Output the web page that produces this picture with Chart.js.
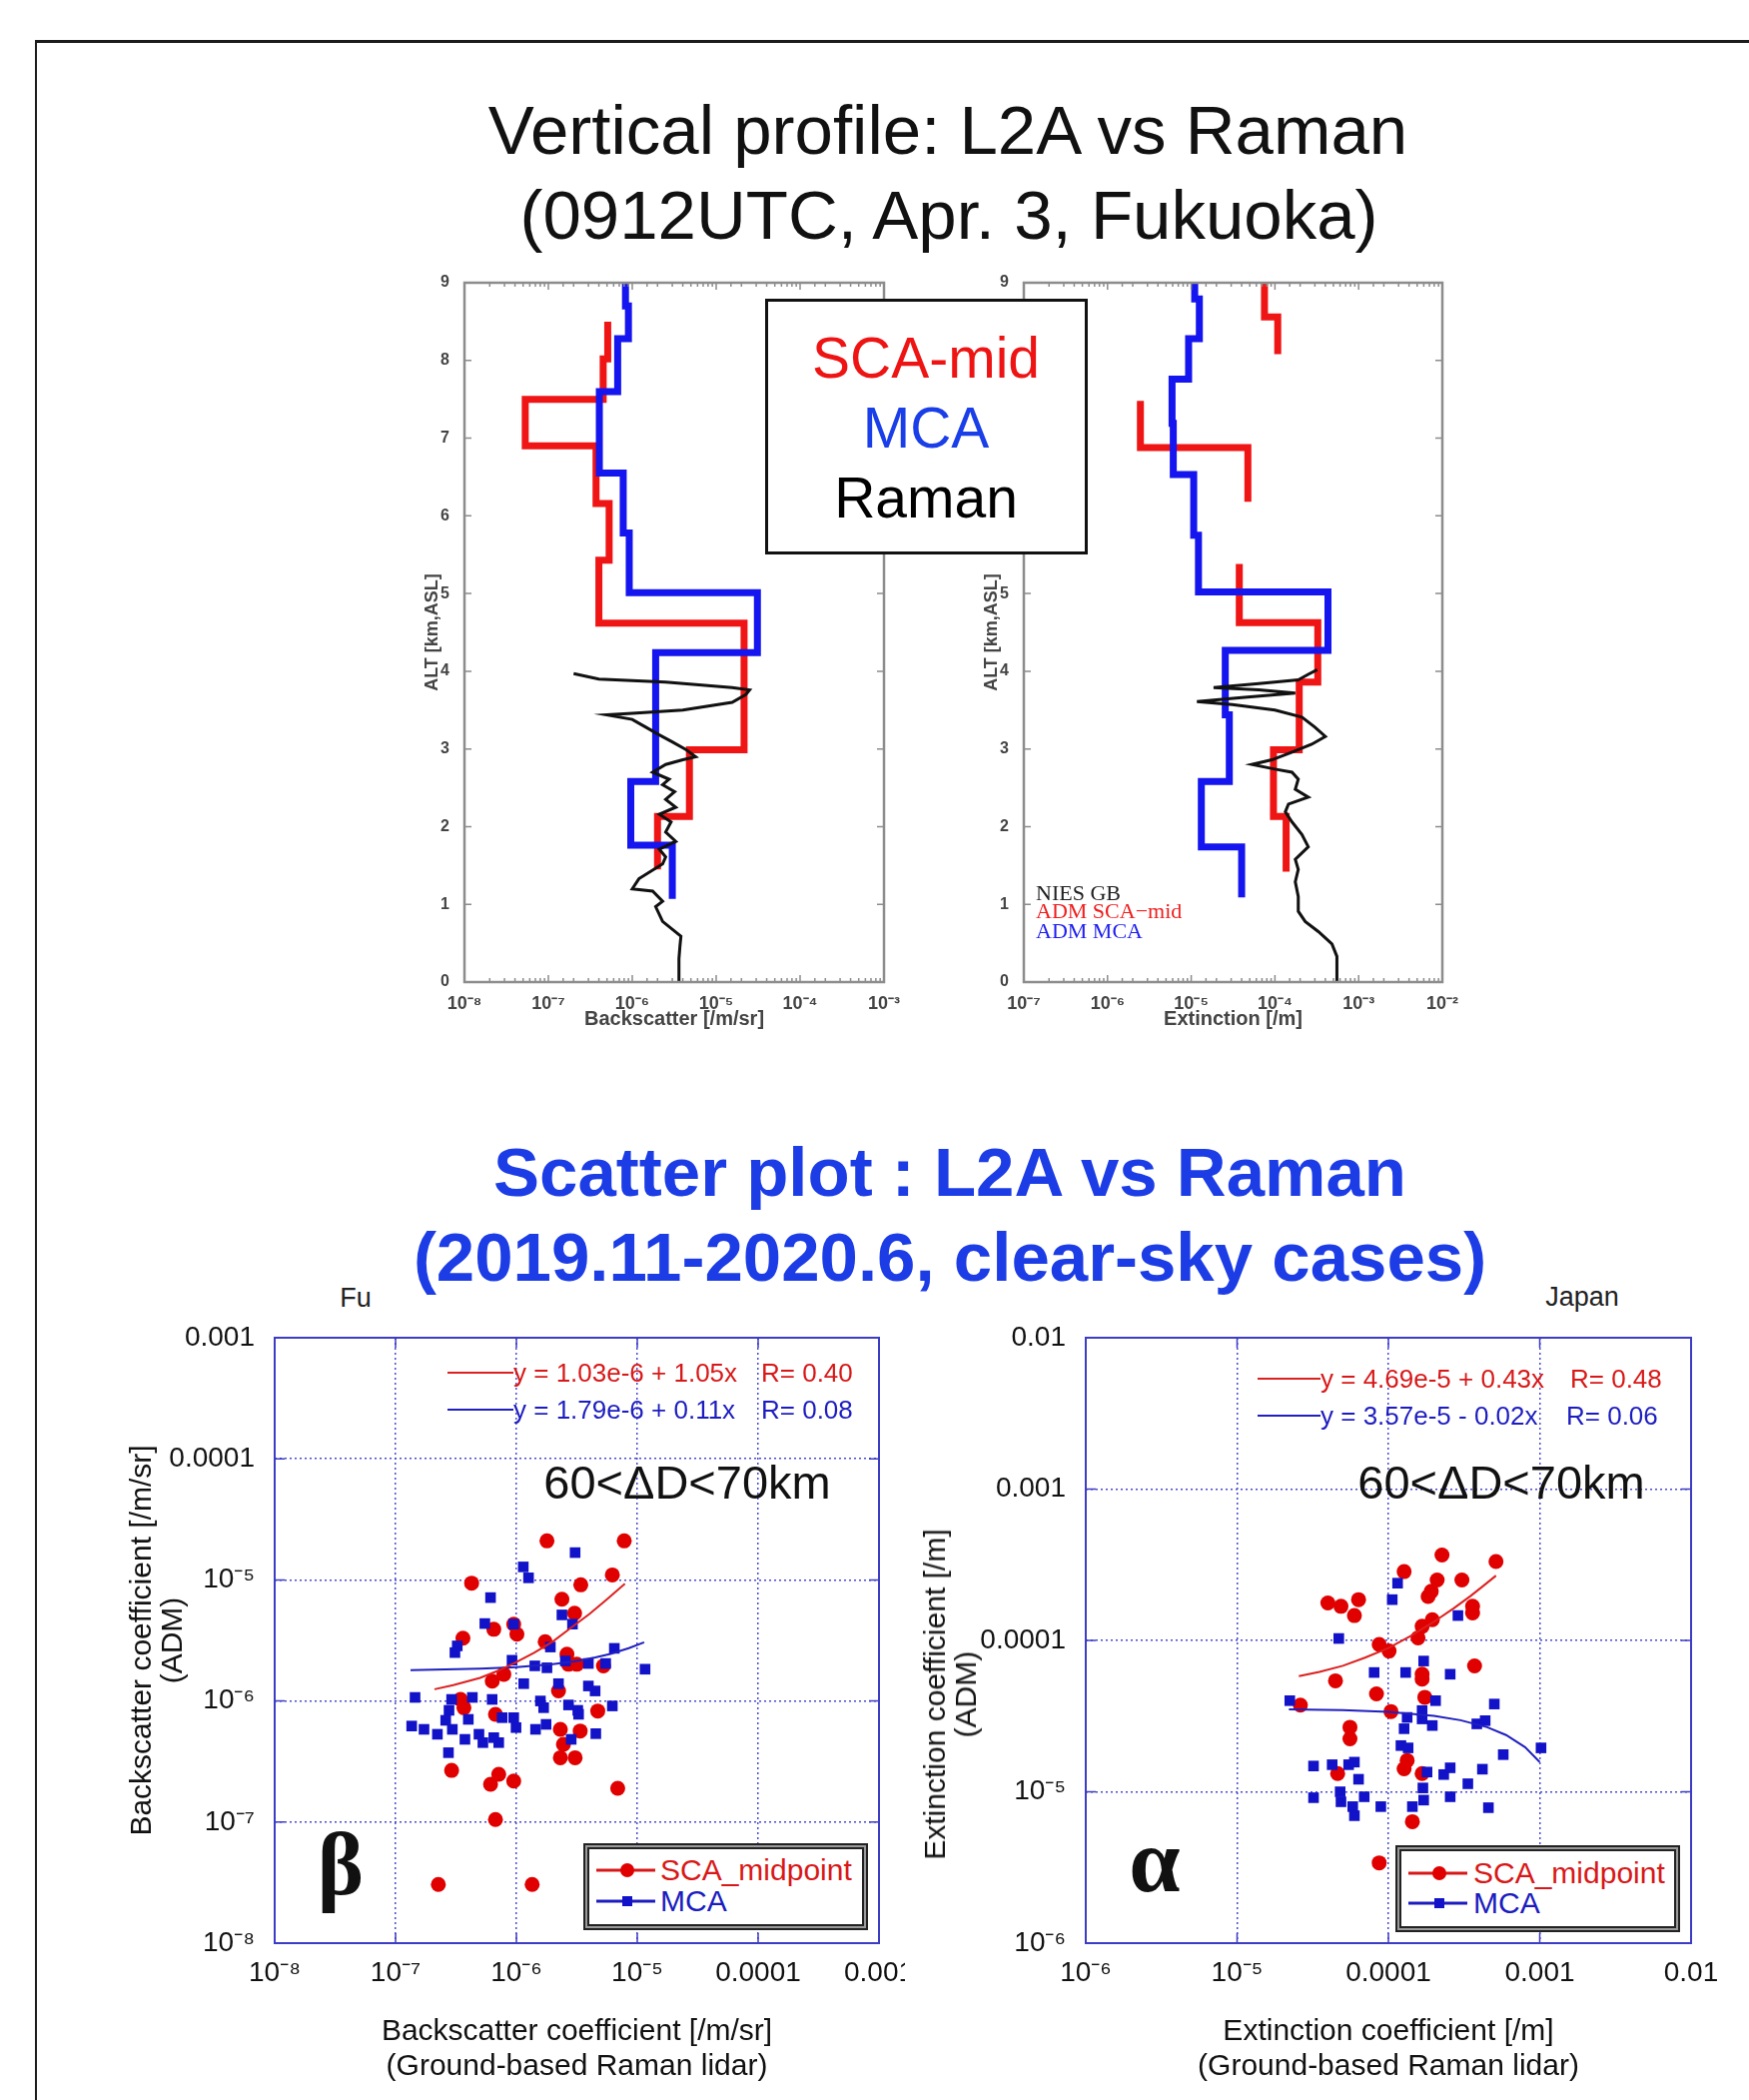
<!DOCTYPE html>
<html lang="en">
<head>
<meta charset="utf-8">
<title>L2A vs Raman</title>
<script src="https://cdn.jsdelivr.net/npm/chart.js@4.4.1/dist/chart.umd.min.js"></script>
<style>
  html, body { margin: 0; padding: 0; background: #fff; }
  #page { position: relative; width: 1751px; height: 2102px; overflow: hidden; font-family: "Liberation Sans", Arial, sans-serif; color: #111; }
  #page canvas { position: absolute; }
  .frame { position: absolute; left: 35px; top: 40px; width: 1800px; height: 2200px; border-top: 3px solid #1c1c1c; border-left: 2px solid #1c1c1c; }
  .c { position: absolute; white-space: nowrap; line-height: 1; transform: translate(-50%, -50%); }
  .l { position: absolute; white-space: nowrap; line-height: 1; transform: translateY(-50%); }
  .ln { position: absolute; height: 2px; transform: translateY(-50%); }
  .dot { position: absolute; width: 14px; height: 14px; border-radius: 50%; transform: translate(-50%, -50%); }
  .sq { position: absolute; width: 10px; height: 10px; transform: translate(-50%, -50%); }
  .key { position: absolute; box-sizing: border-box; background: #fff; border: 2px solid #222; box-shadow: inset 0 0 0 2px #9a9a9a, inset 0 0 0 4px #222; }
  .bigkey { position: absolute; left: 766px; top: 299px; width: 323px; height: 256px; box-sizing: border-box; border: 3px solid #111; background: #fff; }
  .serif { font-family: "Liberation Serif", "Times New Roman", serif; }
</style>
</head>
<body>
<div id="page">
  <div class="frame"></div>

  <!-- top titles -->
  <div class="c" style="left:949px;top:130px;font-size:69px;">Vertical profile: L2A vs Raman</div>
  <div class="c" style="left:950px;top:215px;font-size:69px;">(0912UTC, Apr. 3, Fukuoka)</div>

  <canvas id="profBsc" width="505" height="768" style="left:400px;top:270px;"></canvas>
  <canvas id="profExt" width="504" height="768" style="left:960px;top:270px;"></canvas>

  <div class="bigkey"></div>
  <div class="c" style="left:927px;top:358px;font-size:57px;color:#ee1414;">SCA-mid</div>
  <div class="c" style="left:927px;top:428px;font-size:57px;color:#1a3ee8;">MCA</div>
  <div class="c" style="left:927px;top:498px;font-size:57px;color:#000;">Raman</div>

  <div class="l serif" style="left:1037px;top:894px;font-size:22px;color:#222;">NIES GB</div>
  <div class="l serif" style="left:1037px;top:912px;font-size:22px;color:#f01e1e;">ADM SCA&minus;mid</div>
  <div class="l serif" style="left:1037px;top:932px;font-size:22px;color:#1e1ef0;">ADM MCA</div>

  <!-- scatter titles -->
  <canvas id="scatBeta" width="806" height="776" style="left:100px;top:1319px;"></canvas>
  <canvas id="scatAlpha" width="828" height="776" style="left:912px;top:1319px;"></canvas>

  <div class="c" style="left:356px;top:1299px;font-size:27px;color:#222;">Fu</div>
  <div class="c" style="left:1584px;top:1298px;font-size:27px;color:#222;">Japan</div>
  <div class="c" style="left:951px;top:1173px;font-size:69px;font-weight:bold;color:#1c3ce6;">Scatter plot : L2A vs Raman</div>
  <div class="c" style="left:951px;top:1258px;font-size:69px;font-weight:bold;color:#1c3ce6;">(2019.11-2020.6, clear-sky cases)</div>

  <div class="c" style="left:951px;top:1696px;font-size:30px;line-height:31px;text-align:center;transform:translate(-50%,-50%) rotate(-90deg);">Extinction coefficient [/m]<br>(ADM)</div>

  <!-- left scatter annotations -->
  <div class="ln" style="left:448px;top:1374px;width:66px;background:#dd2020;"></div>
  <div class="l" style="left:514px;top:1374px;font-size:26px;color:#d81818;">y = 1.03e-6 + 1.05x</div>
  <div class="l" style="left:762px;top:1374px;font-size:26px;color:#d81818;">R= 0.40</div>
  <div class="ln" style="left:448px;top:1411px;width:66px;background:#2020c0;"></div>
  <div class="l" style="left:514px;top:1411px;font-size:26px;color:#1c1cc0;">y = 1.79e-6 + 0.11x</div>
  <div class="l" style="left:762px;top:1411px;font-size:26px;color:#1c1cc0;">R= 0.08</div>
  <div class="c" style="left:688px;top:1483px;font-size:47px;">60&lt;&Delta;D&lt;70km</div>
  <div class="c serif" style="left:341px;top:1867px;font-size:88px;font-weight:bold;">&beta;</div>
  <div class="key" style="left:584px;top:1845px;width:285px;height:87px;"></div>
  <div class="ln" style="left:597px;top:1872px;width:59px;height:3px;background:#d81818;"></div>
  <div class="dot" style="left:628px;top:1872px;background:#e00000;"></div>
  <div class="l" style="left:661px;top:1872px;font-size:30px;color:#d81818;">SCA_midpoint</div>
  <div class="ln" style="left:597px;top:1903px;width:59px;height:3px;background:#1c1cc0;"></div>
  <div class="sq" style="left:628px;top:1903px;background:#1212c8;"></div>
  <div class="l" style="left:661px;top:1903px;font-size:30px;color:#1c1cc0;">MCA</div>

  <!-- right scatter annotations -->
  <div class="ln" style="left:1259px;top:1380px;width:63px;background:#dd2020;"></div>
  <div class="l" style="left:1322px;top:1380px;font-size:26px;color:#d81818;">y = 4.69e-5 + 0.43x</div>
  <div class="l" style="left:1572px;top:1380px;font-size:26px;color:#d81818;">R= 0.48</div>
  <div class="ln" style="left:1259px;top:1417px;width:63px;background:#2020c0;"></div>
  <div class="l" style="left:1322px;top:1417px;font-size:26px;color:#1c1cc0;">y = 3.57e-5 - 0.02x</div>
  <div class="l" style="left:1568px;top:1417px;font-size:26px;color:#1c1cc0;">R= 0.06</div>
  <div class="c" style="left:1503px;top:1483px;font-size:47px;">60&lt;&Delta;D&lt;70km</div>
  <div class="c serif" style="left:1156px;top:1862px;font-size:92px;font-weight:bold;">&alpha;</div>
  <div class="key" style="left:1397px;top:1847px;width:285px;height:87px;"></div>
  <div class="ln" style="left:1410px;top:1875px;width:59px;height:3px;background:#d81818;"></div>
  <div class="dot" style="left:1441px;top:1875px;background:#e00000;"></div>
  <div class="l" style="left:1475px;top:1875px;font-size:30px;color:#d81818;">SCA_midpoint</div>
  <div class="ln" style="left:1410px;top:1905px;width:59px;height:3px;background:#1c1cc0;"></div>
  <div class="sq" style="left:1441px;top:1905px;background:#1212c8;"></div>
  <div class="l" style="left:1475px;top:1905px;font-size:30px;color:#1c1cc0;">MCA</div>
</div>

<script>
// ---- vertical profiles (left: backscatter, right: extinction) ----
// ADM layers: boundaries in km from top to bottom, one value per layer (null = no data)
const bscScaAlt = [8.5, 8.02, 7.5, 6.9, 6.16, 5.43, 4.62, 2.99, 2.13, 1.45];
const bscScaVal = [5.1e-7, 4.5e-7, 5.3e-8, 3.7e-7, 5.3e-7, 4.0e-7, 2.15e-5, 4.8e-6, 2.0e-6];
const bscMcaAlt = [9.0, 8.7, 8.28, 7.6, 6.55, 5.78, 5.01, 4.24, 2.58, 1.76, 1.07];
const bscMcaVal = [8.3e-7, 9.0e-7, 6.7e-7, 4.05e-7, 7.8e-7, 9.2e-7, 3.1e-5, 1.9e-6, 9.6e-7, 3.0e-6];
const bscRamanAlt = [0.0, 0.3, 0.46, 0.59, 0.78, 0.97, 1.04, 1.17, 1.2, 1.33, 1.52, 1.61, 1.71, 1.81, 1.93, 2.06, 2.16, 2.25, 2.35, 2.45, 2.54, 2.61, 2.70, 2.80, 2.86, 2.90, 2.99, 3.09, 3.18, 3.28, 3.38, 3.44, 3.46, 3.50, 3.60, 3.70, 3.76, 3.79, 3.86, 3.90, 3.97];
const bscRamanVal = [3.6e-6, 3.6e-6, 3.7e-6, 3.8e-6, 2.3e-6, 1.9e-6, 2.3e-6, 1.75e-6, 1.0e-6, 1.2e-6, 2.3e-6, 2.5e-6, 2.1e-6, 3.3e-6, 2.5e-6, 2.9e-6, 2.1e-6, 3.3e-6, 2.5e-6, 3.2e-6, 2.3e-6, 2.75e-6, 1.75e-6, 2.5e-6, 4.0e-6, 5.7e-6, 4.4e-6, 3.0e-6, 2.1e-6, 1.45e-6, 1.0e-6, 4.9e-7, 1.0e-6, 4.0e-6, 1.55e-5, 2.25e-5, 2.5e-5, 1.55e-5, 2.5e-6, 4.0e-7, 2.0e-7];

const extScaAlt = [9.0, 8.56, 8.08, 7.48, 6.88, 6.18, 5.38, 4.625, 3.86, 2.99, 2.13, 1.42];
const extScaVal = [7.5e-5, 1.08e-4, null, 2.47e-6, 4.75e-5, null, 3.75e-5, 3.25e-4, 1.95e-4, 9.6e-5, 1.36e-4];
const extMcaAlt = [9.0, 8.79, 8.28, 7.76, 7.19, 6.53, 5.75, 5.02, 4.27, 3.44, 2.58, 1.74, 1.09];
const extMcaVal = [1.1e-5, 1.25e-5, 9.3e-6, 5.9e-6, 6.1e-6, 1.07e-5, 1.22e-5, 4.3e-4, 2.55e-5, 2.85e-5, 1.32e-5, 4.0e-5];
const extRamanAlt = [0, 0.33, 0.49, 0.65, 0.78, 0.91, 1.10, 1.29, 1.45, 1.58, 1.74, 1.90, 2.06, 2.19, 2.29, 2.38, 2.48, 2.61, 2.70, 2.74, 2.80, 2.86, 2.96, 3.06, 3.16, 3.28, 3.41, 3.50, 3.57, 3.61, 3.66, 3.72, 3.76, 3.79, 3.84, 3.89, 3.96, 4.02];
const extRamanVal = [5.5e-4, 5.5e-4, 4.8e-4, 3.3e-4, 2.3e-4, 1.9e-4, 1.9e-4, 1.75e-4, 1.9e-4, 1.75e-4, 2.5e-4, 2.1e-4, 1.6e-4, 1.33e-4, 1.45e-4, 2.5e-4, 1.75e-4, 1.9e-4, 1.6e-4, 1.0e-4, 5.3e-5, 9.2e-5, 1.6e-4, 2.75e-4, 4.0e-4, 3.0e-4, 2.1e-4, 1.0e-4, 3.1e-5, 1.17e-5, 4.0e-5, 1.75e-4, 6.4e-5, 1.85e-5, 6.4e-5, 1.9e-4, 2.5e-4, 3.2e-4];

const profBscTicks = [1e-8, 1e-7, 1e-6, 1e-5, 1e-4, 1e-3];
const profBscLabels = ["10⁻⁸", "10⁻⁷", "10⁻⁶", "10⁻⁵", "10⁻⁴", "10⁻³"];
const profExtTicks = [1e-7, 1e-6, 1e-5, 1e-4, 1e-3, 1e-2];
const profExtLabels = ["10⁻⁷", "10⁻⁶", "10⁻⁵", "10⁻⁴", "10⁻³", "10⁻²"];

// ---- scatter plots: x = ground-based Raman lidar, y = ADM ----
const betaScaX = [1.79e-6, 7.8e-6, 4.26e-7, 3.41e-6, 6.22e-6, 2.38e-6, 3.03e-6, 6.5e-7, 9.5e-7, 1.01e-6, 3.61e-7, 1.73e-6, 2.62e-6, 2.70e-6, 3.16e-6, 5.25e-6, 7.87e-7, 6.31e-7, 2.23e-6, 3.45e-7, 3.68e-7, 6.71e-7, 4.71e-6, 2.31e-6, 3.37e-6, 2.45e-6, 2.31e-6, 3.06e-6, 2.91e-7, 7.14e-7, 6.11e-7, 9.5e-7, 6.89e-6, 6.71e-7, 2.26e-7, 1.35e-6];
const betaScaY = [2.1e-5, 2.1e-5, 9.4e-6, 9.1e-6, 1.10e-5, 6.92e-6, 5.31e-6, 3.91e-6, 4.31e-6, 3.56e-6, 3.30e-6, 3.09e-6, 2.43e-6, 2.01e-6, 2.01e-6, 1.95e-6, 1.66e-6, 1.46e-6, 1.21e-6, 1.03e-6, 8.8e-7, 7.76e-7, 8.26e-7, 5.83e-7, 5.65e-7, 4.39e-7, 3.40e-7, 3.40e-7, 2.67e-7, 2.48e-7, 2.05e-7, 2.18e-7, 1.90e-7, 1.05e-7, 3.05e-8, 3.05e-8];
const betaMcaX = [3.06e-6, 1.14e-6, 1.26e-6, 6.11e-7, 2.38e-6, 2.91e-6, 5.48e-7, 9.5e-7, 3.24e-7, 3.10e-7, 1.91e-6, 6.46e-6, 9.2e-7, 1.42e-6, 1.79e-6, 2.54e-6, 3.94e-6, 5.48e-6, 1.16e-5, 1.15e-6, 2.23e-6, 3.94e-6, 4.48e-6, 1.45e-7, 2.91e-7, 4.32e-7, 6.30e-7, 1.58e-6, 1.68e-6, 2.70e-6, 3.22e-6, 3.27e-6, 6.22e-6, 2.77e-7, 2.60e-7, 1.36e-7, 1.72e-7, 2.22e-7, 2.95e-7, 4.0e-7, 3.75e-7, 4.90e-7, 5.28e-7, 6.5e-7, 7.14e-7, 7.62e-7, 9.5e-7, 9.93e-7, 1.44e-6, 1.76e-6, 2.84e-6, 4.54e-6, 2.74e-7];
const betaMcaY = [1.68e-5, 1.28e-5, 1.04e-5, 7.14e-6, 5.14e-6, 4.31e-6, 4.36e-6, 4.31e-6, 2.85e-6, 2.51e-6, 2.79e-6, 2.72e-6, 2.17e-6, 1.95e-6, 1.88e-6, 2.14e-6, 2.04e-6, 2.04e-6, 1.83e-6, 1.39e-6, 1.39e-6, 1.33e-6, 1.21e-6, 1.07e-6, 1.03e-6, 1.07e-6, 1.03e-6, 1.0e-6, 8.8e-7, 9.27e-7, 8.37e-7, 7.76e-7, 9.1e-7, 8.37e-7, 6.92e-7, 6.21e-7, 5.83e-7, 5.31e-7, 5.83e-7, 7.05e-7, 4.82e-7, 5.31e-7, 4.53e-7, 4.98e-7, 4.53e-7, 7.28e-7, 7.28e-7, 6.03e-7, 5.83e-7, 6.41e-7, 4.82e-7, 5.37e-7, 3.74e-7];
const betaScaFitX = [2.1e-7, 3e-7, 5e-7, 7e-7, 1e-6, 1.4e-6, 2e-6, 3e-6, 4e-6, 5.5e-6, 7.9e-6];
const betaScaFitY = [1.25e-6, 1.35e-6, 1.55e-6, 1.77e-6, 2.1e-6, 2.5e-6, 3.1e-6, 4.2e-6, 5.2e-6, 6.8e-6, 9.3e-6];
const betaMcaFitX = [1.33e-7, 5e-7, 1e-6, 2e-6, 3e-6, 4.5e-6, 6e-6, 8.5e-6, 1.14e-5];
const betaMcaFitY = [1.8e-6, 1.85e-6, 1.9e-6, 2.01e-6, 2.12e-6, 2.29e-6, 2.45e-6, 2.73e-6, 3.05e-6];

const alphaScaX = [2.26e-4, 5.14e-4, 1.27e-4, 2.10e-4, 3.06e-4, 1.92e-4, 1.83e-4, 3.98e-5, 4.86e-5, 6.35e-5, 5.96e-5, 3.60e-4, 3.60e-4, 1.95e-4, 1.67e-4, 1.57e-4, 8.69e-5, 1.01e-4, 3.71e-4, 1.67e-4, 1.67e-4, 4.47e-5, 8.34e-5, 1.74e-4, 2.62e-5, 1.04e-4, 5.57e-5, 5.57e-5, 1.33e-4, 1.27e-4, 4.62e-5, 1.67e-4, 1.44e-4, 8.69e-5];
const alphaScaY = [3.67e-4, 3.32e-4, 2.85e-4, 2.51e-4, 2.51e-4, 2.11e-4, 1.95e-4, 1.77e-4, 1.68e-4, 1.86e-4, 1.46e-4, 1.68e-4, 1.52e-4, 1.37e-4, 1.24e-4, 1.04e-4, 9.42e-5, 8.51e-5, 6.79e-5, 5.98e-5, 5.55e-5, 5.41e-5, 4.43e-5, 4.21e-5, 3.74e-5, 3.39e-5, 2.67e-5, 2.24e-5, 1.61e-5, 1.42e-5, 1.32e-5, 1.32e-5, 6.35e-6, 3.39e-6];
const alphaMcaX = [1.15e-4, 1.06e-4, 2.88e-4, 4.70e-5, 1.71e-4, 8.05e-5, 1.30e-4, 2.56e-4, 2.23e-5, 2.05e-4, 5.01e-4, 1.67e-4, 1.33e-4, 1.67e-4, 1.95e-4, 3.84e-4, 4.36e-4, 1.27e-4, 1.21e-4, 1.35e-4, 1.02e-3, 5.74e-4, 3.20e-5, 4.25e-5, 5.46e-5, 5.96e-5, 1.80e-4, 2.32e-4, 2.56e-4, 4.18e-4, 6.35e-5, 3.35e-4, 1.69e-4, 3.20e-5, 4.80e-5, 4.86e-5, 6.92e-5, 5.81e-5, 5.96e-5, 8.91e-5, 1.44e-4, 1.71e-4, 2.56e-4, 4.58e-4];
const alphaMcaY = [2.39e-4, 1.86e-4, 1.46e-4, 1.03e-4, 7.31e-5, 6.14e-5, 6.14e-5, 5.98e-5, 4.0e-5, 4.0e-5, 3.80e-5, 3.44e-5, 3.10e-5, 3.03e-5, 2.74e-5, 2.81e-5, 2.95e-5, 2.61e-5, 2.02e-5, 1.95e-5, 1.95e-5, 1.76e-5, 1.48e-5, 1.51e-5, 1.51e-5, 1.57e-5, 1.35e-5, 1.30e-5, 1.44e-5, 1.41e-5, 1.21e-5, 1.13e-5, 1.06e-5, 9.14e-6, 1.0e-5, 8.59e-6, 9.27e-6, 7.98e-6, 6.95e-6, 7.98e-6, 7.98e-6, 8.81e-6, 9.27e-6, 7.85e-6];
const alphaScaFitX = [2.56e-5, 3.5e-5, 5e-5, 7e-5, 1e-4, 1.4e-4, 2e-4, 2.7e-4, 3.5e-4, 4.3e-4, 5.14e-4];
const alphaScaFitY = [5.8e-5, 6.2e-5, 6.8e-5, 7.7e-5, 8.9e-5, 1.07e-4, 1.33e-4, 1.63e-4, 1.97e-4, 2.32e-4, 2.68e-4];
const alphaMcaFitX = [2.2e-5, 5e-5, 1e-4, 2e-4, 3e-4, 4.5e-4, 6e-4, 8e-4, 1.0e-3];
const alphaMcaFitY = [3.5e-5, 3.47e-5, 3.37e-5, 3.17e-5, 2.97e-5, 2.67e-5, 2.37e-5, 1.97e-5, 1.57e-5];

const betaTicks = [1e-8, 1e-7, 1e-6, 1e-5, 1e-4, 1e-3];
const betaLabels = ["10⁻⁸", "10⁻⁷", "10⁻⁶", "10⁻⁵", "0.0001", "0.001"];
const alphaTicks = [1e-6, 1e-5, 1e-4, 1e-3, 1e-2];
const alphaLabels = ["10⁻⁶", "10⁻⁵", "0.0001", "0.001", "0.01"];

Chart.defaults.font.family = '"Liberation Sans", Arial, sans-serif';

const RED = "#f01515";
const BLUE = "#1515f0";

// (value, alt) pairs from layer tables, making the step outline
function steps(alt, val) {
  const pts = [];
  val.forEach(function (v, i) {
    if (v === null) {
      pts.push({ x: null, y: null });
      return;
    }
    pts.push({ x: v, y: alt[i] }, { x: v, y: alt[i + 1] });
  });
  return pts;
}

function pairs(xs, ys) {
  return xs.map(function (x, i) {
    return { x: x, y: ys[i] };
  });
}

function isDecade(v) {
  const e = Math.log10(v);
  return Math.abs(e - Math.round(e)) < 1e-6;
}

// box round the plot area plus inward tick marks
const framePlugin = {
  id: "frame",
  afterDatasetsDraw: function (chart, args, opts) {
    const ctx = chart.ctx;
    const a = chart.chartArea;
    const xs = chart.scales.x;
    const ys = chart.scales.y;
    ctx.save();
    ctx.setLineDash([]);
    ctx.strokeStyle = opts.color;
    ctx.lineWidth = opts.tickWidth;
    ctx.beginPath();
    xs.ticks.forEach(function (t) {
      const len = isDecade(t.value) ? opts.major : opts.minor;
      const px = xs.getPixelForValue(t.value);
      ctx.moveTo(px, a.bottom);
      ctx.lineTo(px, a.bottom - len);
      ctx.moveTo(px, a.top);
      ctx.lineTo(px, a.top + len);
    });
    ys.ticks.forEach(function (t) {
      const py = ys.getPixelForValue(t.value);
      ctx.moveTo(a.left, py);
      ctx.lineTo(a.left + opts.major, py);
      ctx.moveTo(a.right, py);
      ctx.lineTo(a.right - opts.major, py);
    });
    ctx.stroke();
    ctx.lineWidth = opts.width;
    ctx.strokeRect(a.left, a.top, a.right - a.left, a.bottom - a.top);
    ctx.restore();
  }
};

function profileChart(id, xMin, xMax, tickVals, tickLabels, xTitle, datasets) {
  return new Chart(document.getElementById(id), {
    type: "scatter",
    data: { datasets: datasets },
    plugins: [framePlugin],
    options: {
      responsive: false,
      animation: false,
      layout: { padding: { top: 13, right: 20, bottom: 0, left: 0 } },
      plugins: {
        legend: { display: false },
        tooltip: { enabled: false },
        frame: { color: "#8c8c8c", width: 2.5, tickWidth: 1.5, major: 7, minor: 4 }
      },
      scales: {
        x: {
          type: "logarithmic",
          min: xMin,
          max: xMax,
          grid: { display: false },
          border: { display: false },
          ticks: {
            autoSkip: false,
            maxRotation: 0,
            padding: 3,
            color: "#444",
            font: { size: 18, weight: "bold" },
            callback: function (value) {
              const i = tickVals.findIndex(function (v) {
                return Math.abs(v - value) < v * 1e-6;
              });
              return i >= 0 ? tickLabels[i] : "";
            }
          },
          title: { display: true, text: xTitle, color: "#444", font: { size: 20, weight: "bold" }, padding: { top: 0, bottom: 6 } },
          afterFit: function (s) {
            s.height = 55;
            s.paddingLeft = 0;
            s.paddingRight = 0;
          }
        },
        y: {
          type: "linear",
          min: 0,
          max: 9,
          grid: { display: false },
          border: { display: false },
          ticks: { stepSize: 1, padding: 7, color: "#444", font: { size: 16, weight: "bold" } },
          title: { display: true, text: "ALT [km,ASL]", color: "#444", font: { size: 18, weight: "bold" }, padding: { top: 22, bottom: 0 } },
          afterFit: function (s) {
            s.width = 65;
            s.paddingTop = 0;
            s.paddingBottom = 0;
          }
        }
      }
    }
  });
}

function profileLine(label, data, color, width, order) {
  return {
    label: label,
    data: data,
    showLine: true,
    borderColor: color,
    borderWidth: width,
    borderJoinStyle: "miter",
    pointRadius: 0,
    order: order
  };
}

function scatterChart(id, tickVals, tickLabels, padRight, yTitle, titlePad, xTitle, datasets) {
  const axis = function (isX) {
    return {
      type: "logarithmic",
      min: tickVals[0],
      max: tickVals[tickVals.length - 1],
      afterBuildTicks: function (s) {
        s.ticks = tickVals.map(function (v) {
          return { value: v };
        });
      },
      grid: { color: "#4b4bd0", lineWidth: 1.5, drawTicks: false },
      border: { display: false, dash: [2, 3] },
      ticks: {
        autoSkip: false,
        maxRotation: 0,
        padding: isX ? 13 : 20,
        color: "#111",
        font: { size: 28 },
        callback: function (v, i) {
          return tickLabels[i];
        }
      }
    };
  };
  const x = axis(true);
  x.title = { display: true, text: xTitle, color: "#111", font: { size: 30, lineHeight: 35 / 30 }, padding: { top: 0, bottom: 8.5 } };
  x.afterFit = function (s) {
    s.height = 150;
    s.paddingLeft = 0;
    s.paddingRight = 0;
  };
  const y = axis(false);
  if (yTitle) {
    y.title = { display: true, text: yTitle, color: "#111", font: { size: 30, lineHeight: 31 / 30 }, padding: { top: titlePad, bottom: 0 } };
  }
  y.afterFit = function (s) {
    s.width = 175;
    s.paddingTop = 0;
    s.paddingBottom = 0;
  };
  return new Chart(document.getElementById(id), {
    type: "scatter",
    data: { datasets: datasets },
    plugins: [framePlugin],
    options: {
      responsive: false,
      animation: false,
      layout: { padding: { top: 20, right: padRight, bottom: 0, left: 0 } },
      plugins: {
        legend: { display: false },
        tooltip: { enabled: false },
        frame: { color: "#3c3cc4", width: 2, tickWidth: 1.5, major: 10, minor: 0 }
      },
      scales: { x: x, y: y }
    }
  });
}

function scatterSets(scaX, scaY, mcaX, mcaY, scaFitX, scaFitY, mcaFitX, mcaFitY) {
  return [
    { label: "SCA fit", data: pairs(scaFitX, scaFitY), showLine: true, borderColor: "#dd2020", borderWidth: 2, pointRadius: 0, order: 0 },
    { label: "MCA fit", data: pairs(mcaFitX, mcaFitY), showLine: true, borderColor: "#2020c0", borderWidth: 2, pointRadius: 0, order: 0 },
    { label: "MCA", data: pairs(mcaX, mcaY), pointStyle: "rect", pointRadius: 7.5, backgroundColor: "#1212c8", borderWidth: 0, order: 1 },
    { label: "SCA_midpoint", data: pairs(scaX, scaY), pointStyle: "circle", pointRadius: 7.5, backgroundColor: "#e00000", borderWidth: 0, order: 2 }
  ];
}

document.addEventListener("DOMContentLoaded", function () {
  profileChart("profBsc", 1e-8, 1e-3, profBscTicks, profBscLabels, "Backscatter [/m/sr]", [
    profileLine("NIES GB", pairs(bscRamanVal, bscRamanAlt), "#111", 3, 0),
    profileLine("ADM MCA", steps(bscMcaAlt, bscMcaVal), BLUE, 7, 1),
    profileLine("ADM SCA-mid", steps(bscScaAlt, bscScaVal), RED, 7, 2)
  ]);

  profileChart("profExt", 1e-7, 1e-2, profExtTicks, profExtLabels, "Extinction [/m]", [
    profileLine("NIES GB", pairs(extRamanVal, extRamanAlt), "#111", 3, 0),
    profileLine("ADM MCA", steps(extMcaAlt, extMcaVal), BLUE, 7, 1),
    profileLine("ADM SCA-mid", steps(extScaAlt, extScaVal), RED, 7, 2)
  ]);

  scatterChart("scatBeta", betaTicks, betaLabels, 26,
    ["Backscatter coefficient [/m/sr]", "(ADM)"], 27.5,
    ["Backscatter coefficient [/m/sr]", "(Ground-based Raman lidar)"],
    scatterSets(betaScaX, betaScaY, betaMcaX, betaMcaY, betaScaFitX, betaScaFitY, betaMcaFitX, betaMcaFitY));

  scatterChart("scatAlpha", alphaTicks, alphaLabels, 47, null, 0,
    ["Extinction coefficient [/m]", "(Ground-based Raman lidar)"],
    scatterSets(alphaScaX, alphaScaY, alphaMcaX, alphaMcaY, alphaScaFitX, alphaScaFitY, alphaMcaFitX, alphaMcaFitY));
});
</script>
</body>
</html>
